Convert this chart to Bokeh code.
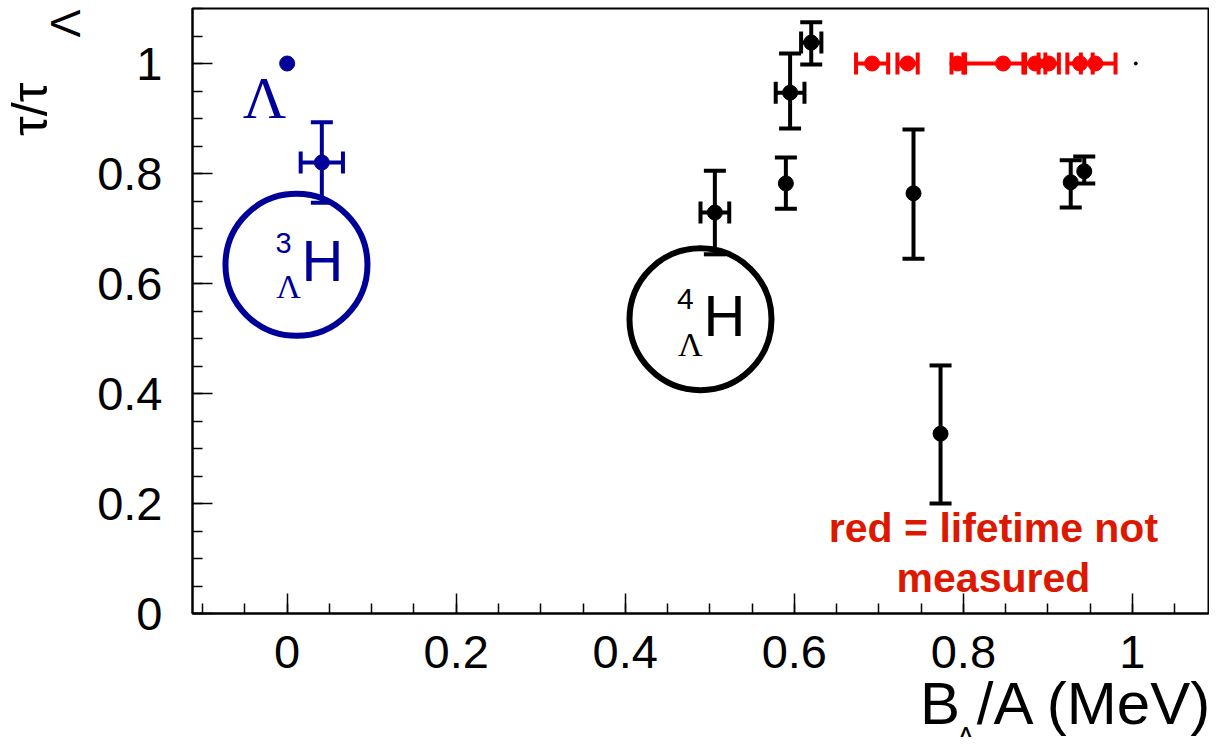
from bokeh.plotting import figure
from bokeh.models import (ColumnDataSource, Whisker, TeeHead, Label, FixedTicker,
                          Range1d, CustomJSTickFormatter, Title)
from bokeh.embed import file_html
from bokeh.resources import INLINE

# ---------------- data ----------------
# free Lambda
lam_x = [0.0]
lam_y = [1.0]
# hypertriton (blue)
h3_x = [0.041]
h3_y = [0.82]
h3_xerr = [0.025]
h3_yerr = [0.073]
# measured hypernuclei (black)
blk_x = [0.506, 0.595, 0.620, 0.590, 0.741, 0.773, 0.927, 0.943]
blk_y = [0.729, 0.947, 1.038, 0.782, 0.764, 0.327, 0.784, 0.804]
blk_ylo = [0.076, 0.065, 0.040, 0.046, 0.119, 0.127, 0.046, 0.022]
blk_yhi = [0.076, 0.071, 0.037, 0.047, 0.116, 0.124, 0.040, 0.027]
blk_xerr = [0.017, 0.017, 0.012, 0.0, 0.0, 0.0, 0.0, 0.0]
# lifetime not measured (red)
red_x = [0.692, 0.734, 0.793, 0.847, 0.885, 0.901, 0.938, 0.956]
red_y = [1.0, 1.0, 1.0, 1.0, 1.0, 1.0, 1.0, 1.0]
red_xlo = [0.019, 0.012, 0.007, 0.045, 0.012, 0.012, 0.015, 0.017]
red_xhi = [0.019, 0.012, 0.007, 0.024, 0.012, 0.012, 0.015, 0.024]
# tiny extra marker
dot_x = [1.004]
dot_y = [1.0]

x_ticks = [0, 0.2, 0.4, 0.6, 0.8, 1.0]
y_ticks = [0, 0.2, 0.4, 0.6, 0.8, 1.0]

# annotation anchor points (data units)
circ3_x, circ3_y = [0.011], [0.634]
circ4_x, circ4_y = [0.489], [0.535]

BLUE = "#000099"
RED = "#ff0000"
TXT_RED = "#dd1800"

p = figure(width=1209, height=737, output_backend="svg", toolbar_location=None,
           x_range=Range1d(-0.112, 1.090), y_range=Range1d(0, 1.1),
           min_border_left=192, min_border_right=1, min_border_top=8,
           min_border_bottom=124)
p.background_fill_color = "white"
p.border_fill_color = "white"
p.outline_line_color = "black"
p.outline_line_width = 2
p.xgrid.visible = False
p.ygrid.visible = False

fmt = CustomJSTickFormatter(code="return String(Math.round(tick*100)/100)")
minor_x = [round(-0.1 + 0.05 * i, 3) for i in range(25)]
minor_y = [round(0.05 * i, 3) for i in range(23)]
p.xaxis.ticker = FixedTicker(ticks=x_ticks, minor_ticks=minor_x)
p.yaxis.ticker = FixedTicker(ticks=y_ticks, minor_ticks=minor_y)
for ax in (p.xaxis, p.yaxis):
    ax.formatter = fmt
    ax.major_tick_in = 20
    ax.major_tick_out = 0
    ax.minor_tick_in = 10
    ax.minor_tick_out = 0
    ax.major_tick_line_width = 1.5
    ax.minor_tick_line_width = 1.5
    ax.major_tick_line_color = "black"
    ax.minor_tick_line_color = "black"
    ax.axis_line_color = "black"
    ax.axis_line_width = 2
    ax.major_label_text_font = "Liberation Sans"
    ax.major_label_text_font_size = "47px"
    ax.major_label_text_color = "black"
p.yaxis.major_label_standoff = 30
p.xaxis.major_label_standoff = 22


def ttl(text, size, align, standoff, offset=0):
    return Title(text=text, align=align, text_font="Liberation Sans",
                 text_font_size=f"{size}px", text_font_style="normal",
                 text_color="black", standoff=standoff, offset=offset)


# axis titles built from side titles (main text + subscript)
p.add_layout(ttl("B /A (MeV)", 60, "right", -6, offset=-5), "below")
p.add_layout(ttl("Λ", 28, "left", -29, offset=764), "below")
p.add_layout(ttl("Λ", 42, "right", 12, offset=1), "left")
p.add_layout(ttl("τ/τ", 50, "right", -49, offset=74), "left")

# --- annotation circles ---
p.scatter(circ3_x, circ3_y, marker="circle", size=142, fill_color=None,
          line_color=BLUE, line_width=6)
p.scatter(circ4_x, circ4_y, marker="circle", size=142, fill_color=None,
          line_color="black", line_width=6)


def whisk(src, base, lo, hi, dim, color):
    w = Whisker(source=src, base=base, lower=lo, upper=hi, dimension=dim,
                line_color=color, line_width=4,
                upper_head=TeeHead(size=22, line_color=color, line_width=4),
                lower_head=TeeHead(size=22, line_color=color, line_width=4))
    p.add_layout(w)


# blue hypertriton
h3 = ColumnDataSource(dict(x=h3_x, y=h3_y,
                           ylo=[a - b for a, b in zip(h3_y, h3_yerr)],
                           yhi=[a + b for a, b in zip(h3_y, h3_yerr)],
                           xlo=[a - b for a, b in zip(h3_x, h3_xerr)],
                           xhi=[a + b for a, b in zip(h3_x, h3_xerr)]))
whisk(h3, "x", "ylo", "yhi", "height", BLUE)
whisk(h3, "y", "xlo", "xhi", "width", BLUE)
p.scatter("x", "y", source=h3, size=15, color=BLUE)
p.scatter(lam_x, lam_y, size=15, color=BLUE)

# black
blk = ColumnDataSource(dict(x=blk_x, y=blk_y,
                            ylo=[a - b for a, b in zip(blk_y, blk_ylo)],
                            yhi=[a + b for a, b in zip(blk_y, blk_yhi)]))
whisk(blk, "x", "ylo", "yhi", "height", "black")
bx = [i for i, e in enumerate(blk_xerr) if e > 0]
blkx = ColumnDataSource(dict(y=[blk_y[i] for i in bx],
                             xlo=[blk_x[i] - blk_xerr[i] for i in bx],
                             xhi=[blk_x[i] + blk_xerr[i] for i in bx]))
whisk(blkx, "y", "xlo", "xhi", "width", "black")
p.scatter("x", "y", source=blk, size=15, color="black")

# red
red = ColumnDataSource(dict(x=red_x, y=red_y,
                            xlo=[a - b for a, b in zip(red_x, red_xlo)],
                            xhi=[a + b for a, b in zip(red_x, red_xhi)]))
whisk(red, "y", "xlo", "xhi", "width", RED)
p.scatter("x", "y", source=red, size=15, color=RED)

p.scatter(dot_x, dot_y, size=3, color="black")


def lab(x, y, text, size, color="black", font="Liberation Sans", align="center",
        baseline="middle", style="normal"):
    p.add_layout(Label(x=x, y=y, text=text, text_font=font,
                       text_font_size=f"{size}px", text_color=color,
                       text_align=align, text_baseline=baseline,
                       text_font_style=style))


# Lambda label
lab(-0.0268, 0.938, "Λ", 60, BLUE, font="Liberation Serif")
# 3_Lambda H
lab(-0.0043, 0.674, "3", 29, BLUE)
lab(0.0016, 0.594, "Λ", 34, BLUE, font="Liberation Serif")
lab(0.0418, 0.641, "H", 58, BLUE)
# 4_Lambda H
lab(0.4712, 0.572, "4", 30, "black")
lab(0.4771, 0.490, "Λ", 34, "black", font="Liberation Serif")
lab(0.5174, 0.541, "H", 58, "black")
# red note
lab(0.8356, 0.155, "red = lifetime not", 41, TXT_RED, style="bold")
lab(0.8356, 0.064, "measured", 41, TXT_RED, style="bold")

open("out.html", "w").write(file_html(p, INLINE))
